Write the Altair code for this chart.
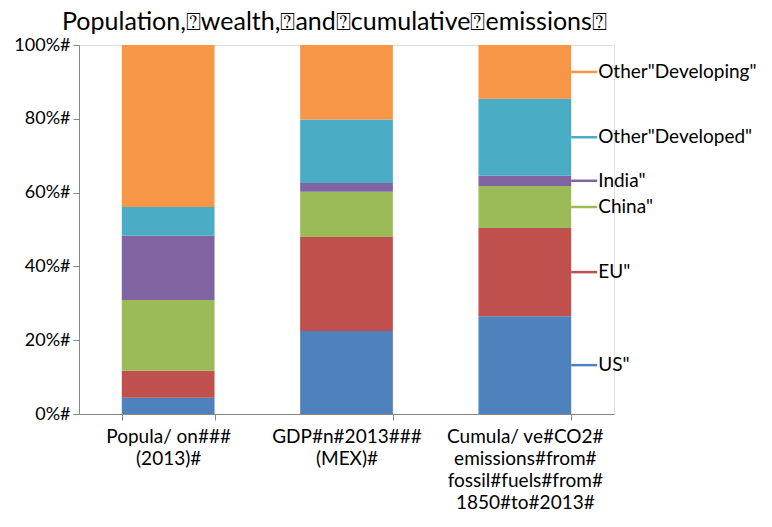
import altair as alt
import pandas as pd

categories = [
    "Popula/ on###|(2013)#",
    "GDP#n#2013###|(MEX)#",
    "Cumula/ ve#CO2#|emissions#from#|fossil#fuels#from#|1850#to#2013#",
]
regions = ["US", "EU", "China", "India", "Other Developed", "Other Developing"]
legend_labels = ['US"', 'EU"', 'China"', 'India"', 'Other"Developed"', 'Other"Developing"']
colors = ["#4F81BD", "#C0504D", "#9BBB59", "#8064A2", "#4BACC6", "#F79646"]

population = [4.4, 7.3, 19.2, 17.4, 7.8, 43.9]
gdp = [22.5, 25.5, 12.2, 2.4, 17.2, 20.2]
cumulative = [26.5, 23.9, 11.4, 2.8, 20.8, 14.6]

y_ticks = [0, 0.2, 0.4, 0.6, 0.8, 1.0]
title_text = "Population,\u2370wealth,\u2370and\u2370cumulative\u2370emissions\u2370"

rows = []
for cat, series in zip(categories, [population, gdp, cumulative]):
    for i, (r, v) in enumerate(zip(regions, series)):
        rows.append({"cat": cat, "region": r, "label": legend_labels[i], "idx": i, "value": v})
df = pd.DataFrame(rows)

FONT = "Lato"

x_enc = alt.X(
    "cat:N",
    sort=categories,
    scale=alt.Scale(paddingInner=0.48, paddingOuter=0.24),
    axis=alt.Axis(
        title=None,
        labelAngle=0,
        labelExpr="split(datum.label, '|')",
        labelFont=FONT,
        labelFontSize=19,
        labelColor="#000000",
        labelLineHeight=22,
        labelPadding=7,
        labelBaseline="top",
        tickBand="extent",
        tickSize=6,
        tickColor="#878787",
        domainColor="#878787",
    ),
)
color_enc = alt.Color(
    "region:N",
    scale=alt.Scale(domain=regions, range=colors),
    legend=None,
)

bars = alt.Chart(df).mark_bar().encode(
    x=x_enc,
    y=alt.Y(
        "value:Q",
        stack="normalize",
        scale=alt.Scale(domain=[0, 1]),
        axis=alt.Axis(
            title=None,
            values=y_ticks,
            labelExpr="format(datum.value*100, 'd') + '%#'",
            labelFont=FONT,
            labelFontSize=18,
            labelColor="#000000",
            labelPadding=3,
            tickSize=6,
            tickColor="#878787",
            domainColor="#878787",
            grid=False,
        ),
    ),
    color=color_enc,
    order=alt.Order("idx:Q", sort="ascending"),
)

last = alt.Chart(df).transform_filter(
    alt.datum.cat == categories[-1]
).transform_stack(
    stack="value",
    groupby=["cat"],
    as_=["y0", "y1"],
    offset="normalize",
    sort=[alt.SortField("idx", order="ascending")],
).transform_calculate(mid="(datum.y0 + datum.y1) / 2")

leaders = last.mark_rule(strokeWidth=2.5, x2Offset=26).encode(
    x=alt.X("cat:N", sort=categories, bandPosition=1.0),
    x2=alt.X2("cat:N", bandPosition=1.0),
    y=alt.Y("mid:Q"),
    color=color_enc,
)

texts = last.mark_text(
    align="left", baseline="middle", font=FONT, fontSize=19, color="#000000", dx=27
).encode(
    x=alt.X("cat:N", sort=categories, bandPosition=1.0),
    y=alt.Y("mid:Q"),
    text="label:N",
)

chart = alt.layer(bars, leaders, texts).properties(
    width=535,
    height=369,
    title=alt.TitleParams(
        text=title_text,
        anchor="start",
        frame="group",
        font=FONT,
        fontSize=25,
        fontWeight="normal",
        color="#000000",
        dx=-17,
        offset=1,
    ),
    autosize=alt.AutoSizeParams(type="none"),
    padding={"left": 71, "top": 37, "right": 150, "bottom": 105},
).configure_view(stroke=None).configure(background="white")

chart.save("out.html", embed_options={"renderer": "svg", "actions": False})
